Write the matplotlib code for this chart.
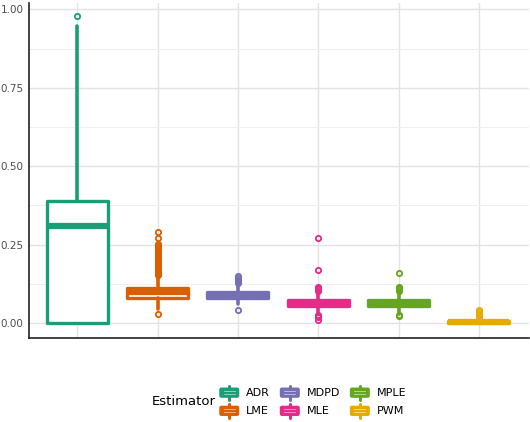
import matplotlib
matplotlib.use("Agg")
import matplotlib.pyplot as plt
from matplotlib.legend_handler import HandlerBase
from matplotlib.patches import FancyBboxPatch
from matplotlib.lines import Line2D

categories = ['ADR', 'LME', 'MDPD', 'MLE', 'MPLE', 'PWM']
colors = ['#1B9E77', '#D95F02', '#7570B3', '#E7298A', '#66A61E', '#E6AB02']

q1 = [0.0, 0.080, 0.079, 0.053, 0.053, 0.000]
med = [0.308, 0.100, 0.090, 0.063, 0.063, 0.002]
q3 = [0.390, 0.110, 0.098, 0.072, 0.072, 0.005]
whislo = [0.0, 0.045, 0.060, 0.030, 0.030, 0.000]
whishi = [0.947, 0.150, 0.125, 0.100, 0.100, 0.012]
fliers = [
    [0.98],
    [0.03, 0.152, 0.157, 0.162, 0.167, 0.172, 0.177, 0.182, 0.187, 0.192, 0.197,
     0.202, 0.207, 0.212, 0.217, 0.222, 0.227, 0.232, 0.237, 0.242, 0.247, 0.252,
     0.27, 0.29],
    [0.04, 0.128, 0.133, 0.138, 0.143, 0.15],
    [0.01, 0.018, 0.022, 0.026, 0.103, 0.107, 0.111, 0.115, 0.17, 0.27],
    [0.022, 0.026, 0.103, 0.107, 0.111, 0.115, 0.16],
    [0.015, 0.02, 0.025, 0.03, 0.035, 0.04],
]

fig = plt.figure(figsize=(5.3, 4.22), dpi=100)
ax = fig.add_axes([0.0547, 0.199, 0.943, 0.795])

stats = []
for i in range(len(categories)):
    stats.append(dict(label=categories[i], q1=q1[i], med=med[i], q3=q3[i],
                      whislo=whislo[i], whishi=whishi[i], fliers=fliers[i]))

for i, s in enumerate(stats):
    c = colors[i]
    ax.bxp([s], positions=[i + 1], widths=0.76, showcaps=False, patch_artist=True,
           boxprops=dict(facecolor='white', edgecolor=c, linewidth=2.4, joinstyle='round'),
           whiskerprops=dict(color=c, linewidth=2.6, solid_capstyle='round'),
           medianprops=dict(color=c, linewidth=4.5, solid_capstyle='butt'),
           flierprops=dict(marker='o', markersize=3.8, markerfacecolor='none',
                           markeredgecolor=c, markeredgewidth=1.3),
           zorder=3)

ax.set_xlim(0.4, 6.62)
ax.set_ylim(-0.048, 1.022)
ax.set_yticks([0, 0.25, 0.5, 0.75, 1.0])
ax.set_yticklabels(['0.00', '0.25', '0.50', '0.75', '1.00'])
ax.set_yticks([0.125, 0.375, 0.625, 0.875], minor=True)
ax.set_xticks(range(1, 7))
ax.set_xticklabels([])
ax.tick_params(axis='both', which='both', length=0, labelsize=7.5, labelcolor='#4d4d4d', pad=4)
ax.grid(True, which='major', color='#e3e3e3', linewidth=1.0, zorder=0)
ax.grid(True, which='minor', axis='y', color='#efefef', linewidth=0.7, zorder=0)
ax.set_axisbelow(True)
for sp in ['top', 'right']:
    ax.spines[sp].set_visible(False)
for sp in ['left', 'bottom']:
    ax.spines[sp].set_color('#222222')
    ax.spines[sp].set_linewidth(1.2)


class BoxKey(HandlerBase):
    def create_artists(self, legend, orig_handle, xdescent, ydescent, width, height, fontsize, trans):
        c = orig_handle.get_color()
        cx = width / 2 - xdescent
        cy = height / 2 - ydescent
        bw, bh = width, height * 0.72
        box = FancyBboxPatch((cx - bw / 2, cy - bh / 2), bw, bh,
                             boxstyle='round,pad=0,rounding_size=1.5',
                             facecolor=c, edgecolor='none', transform=trans)
        wh = Line2D([cx, cx], [cy - height * 0.5, cy + height * 0.5], color=c,
                    linewidth=2.2, solid_capstyle='round', transform=trans)
        l1 = Line2D([cx - bw * 0.27, cx + bw * 0.27], [cy + bh * 0.15] * 2,
                    color='white', linewidth=0.6, alpha=0.6, transform=trans)
        l2 = Line2D([cx - bw * 0.27, cx + bw * 0.27], [cy - bh * 0.15] * 2,
                    color='white', linewidth=0.6, alpha=0.6, transform=trans)
        return [wh, box, l1, l2]


handles = [Line2D([], [], color=c) for c in colors]
leg = fig.legend(handles, categories, loc='center', bbox_to_anchor=(0.59, 0.048),
                 ncol=3, frameon=False, fontsize=8, handler_map={Line2D: BoxKey()},
                 handlelength=1.8, handleheight=1.6, handletextpad=0.6,
                 columnspacing=0.9, labelspacing=0.35)
fig.text(0.347, 0.048, 'Estimator', fontsize=9.5, ha='center', va='center', color='black')

fig.savefig('out.png', dpi=100)
